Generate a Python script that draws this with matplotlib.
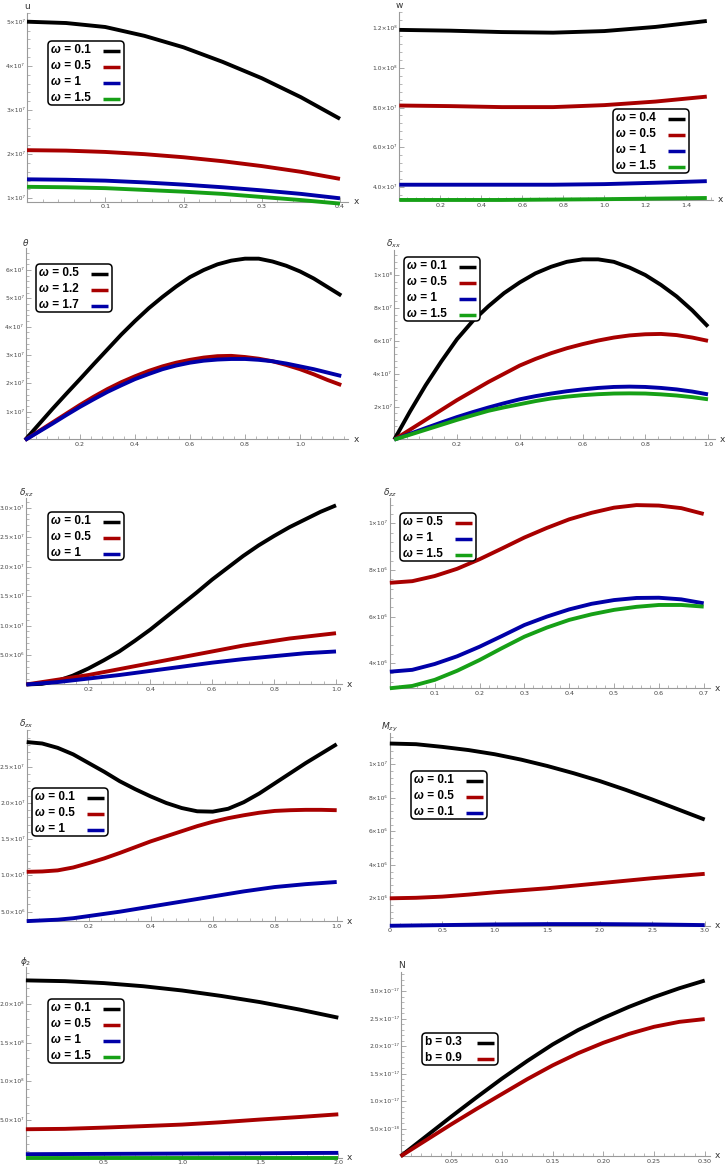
import math
import numpy as np
import matplotlib
matplotlib.use("Agg")
import matplotlib.pyplot as plt
from matplotlib.lines import Line2D
from matplotlib.patches import FancyBboxPatch
from matplotlib.transforms import IdentityTransform
from matplotlib.ticker import FixedLocator, AutoMinorLocator

W, H, DPI = 726, 1172, 100

BLACK = "#000000"
RED = "#a80000"
BLUE = "#0000a8"
GREEN = "#16a016"

# ---------------- data ----------------
u_x = [0, 0.05, 0.1, 0.15, 0.2, 0.25, 0.3, 0.35, 0.4]
u_w01 = np.array([5.0, 4.97, 4.88, 4.68, 4.42, 4.09, 3.72, 3.29, 2.80]) * 1e7
u_w05 = np.array([2.09, 2.08, 2.05, 2.00, 1.93, 1.84, 1.73, 1.60, 1.44]) * 1e7
u_w1 = np.array([1.43, 1.42, 1.40, 1.36, 1.31, 1.25, 1.18, 1.10, 1.00]) * 1e7
u_w15 = np.array([1.26, 1.25, 1.23, 1.19, 1.15, 1.10, 1.03, 0.96, 0.88]) * 1e7

w_x = [0, 0.25, 0.5, 0.75, 1.0, 1.25, 1.5]
w_w04 = np.array([1.192, 1.188, 1.181, 1.178, 1.186, 1.207, 1.237]) * 1e8
w_w05 = np.array([8.10, 8.07, 8.02, 8.02, 8.12, 8.30, 8.55]) * 1e7
w_w1 = np.array([4.10, 4.10, 4.10, 4.10, 4.13, 4.20, 4.28]) * 1e7
w_w15 = np.array([3.33, 3.33, 3.33, 3.35, 3.37, 3.40, 3.43]) * 1e7

theta_x = [0, 0.05, 0.1, 0.15, 0.2, 0.25, 0.3, 0.35, 0.4, 0.45, 0.5, 0.55,
           0.6, 0.65, 0.7, 0.75, 0.8, 0.85, 0.9, 0.95, 1.0, 1.05, 1.1, 1.15]
theta_w05 = np.array([0, 0.55, 1.1, 1.63, 2.15, 2.68, 3.2, 3.72, 4.2, 4.65, 5.05, 5.42,
                      5.75, 6.0, 6.2, 6.33, 6.4, 6.4, 6.3, 6.15, 5.95, 5.7, 5.4, 5.1]) * 1e7
theta_w12 = np.array([0, 0.31, 0.62, 0.93, 1.24, 1.53, 1.8, 2.04, 2.25, 2.44, 2.6, 2.73,
                      2.83, 2.91, 2.96, 2.97, 2.93, 2.87, 2.78, 2.65, 2.5, 2.32, 2.12, 1.94]) * 1e7
theta_w17 = np.array([0, 0.29, 0.58, 0.88, 1.17, 1.44, 1.7, 1.93, 2.15, 2.33, 2.5, 2.63,
                      2.73, 2.8, 2.84, 2.86, 2.86, 2.83, 2.78, 2.7, 2.6, 2.5, 2.38, 2.26]) * 1e7

dxx_x = [0, 0.05, 0.1, 0.15, 0.2, 0.25, 0.3, 0.35, 0.4, 0.45, 0.5,
         0.55, 0.6, 0.65, 0.7, 0.75, 0.8, 0.85, 0.9, 0.95, 1.0]
dxx_w01 = np.array([0, 1.7, 3.3, 4.75, 6.1, 7.2, 8.1, 8.9, 9.55, 10.1, 10.5,
                    10.8, 10.95, 10.95, 10.8, 10.45, 10.0, 9.4, 8.7, 7.85, 6.87]) * 1e7
dxx_w05 = np.array([0, 0.6, 1.2, 1.8, 2.4, 2.95, 3.5, 4.0, 4.5, 4.9, 5.25,
                    5.55, 5.8, 6.02, 6.2, 6.33, 6.4, 6.42, 6.35, 6.2, 6.0]) * 1e7
dxx_w1 = np.array([0, 0.35, 0.7, 1.04, 1.37, 1.67, 1.95, 2.21, 2.45, 2.64, 2.8,
                   2.94, 3.05, 3.14, 3.2, 3.22, 3.2, 3.14, 3.05, 2.92, 2.75]) * 1e7
dxx_w15 = np.array([0, 0.3, 0.6, 0.9, 1.2, 1.48, 1.75, 1.96, 2.15, 2.34, 2.5,
                    2.61, 2.7, 2.76, 2.8, 2.81, 2.8, 2.75, 2.68, 2.58, 2.45]) * 1e7

dxz_x = [0, 0.05, 0.1, 0.15, 0.2, 0.25, 0.3, 0.35, 0.4, 0.45, 0.5,
         0.55, 0.6, 0.65, 0.7, 0.75, 0.8, 0.85, 0.9, 0.95, 1.0]
dxz_w01 = np.array([0, 0.01, 0.06, 0.15, 0.27, 0.41, 0.56, 0.74, 0.93, 1.14, 1.35,
                    1.56, 1.78, 1.98, 2.18, 2.36, 2.52, 2.67, 2.8, 2.93, 3.04]) * 1e7
dxz_w05 = np.array([0, 0.04, 0.08, 0.12, 0.16, 0.21, 0.26, 0.31, 0.36, 0.41, 0.46,
                    0.51, 0.56, 0.61, 0.66, 0.70, 0.74, 0.78, 0.81, 0.84, 0.87]) * 1e7
dxz_w1 = np.array([0, 0.02, 0.04, 0.07, 0.10, 0.13, 0.16, 0.195, 0.23, 0.265, 0.30,
                   0.335, 0.37, 0.40, 0.43, 0.455, 0.48, 0.505, 0.53, 0.545, 0.56]) * 1e7

dzz_x = [0, 0.05, 0.1, 0.15, 0.2, 0.25, 0.3, 0.35, 0.4, 0.45, 0.5, 0.55, 0.6, 0.65, 0.7]
dzz_w05 = np.array([7.45, 7.52, 7.74, 8.05, 8.46, 8.92, 9.39, 9.80, 10.17, 10.45,
                    10.67, 10.78, 10.76, 10.65, 10.40]) * 1e6
dzz_w1 = np.array([3.64, 3.72, 3.97, 4.30, 4.71, 5.17, 5.64, 6.00, 6.31, 6.55,
                   6.71, 6.80, 6.81, 6.74, 6.57]) * 1e6
dzz_w15 = np.array([2.93, 3.03, 3.29, 3.68, 4.14, 4.65, 5.14, 5.53, 5.86, 6.10,
                    6.29, 6.42, 6.50, 6.50, 6.43]) * 1e6

dzx_x = [0, 0.05, 0.1, 0.15, 0.2, 0.25, 0.3, 0.35, 0.4, 0.45, 0.5,
         0.55, 0.6, 0.65, 0.7, 0.75, 0.8, 0.85, 0.9, 0.95, 1.0]
dzx_w01 = np.array([2.84, 2.82, 2.76, 2.67, 2.55, 2.43, 2.30, 2.19, 2.09, 2.00, 1.93,
                    1.885, 1.88, 1.92, 2.01, 2.13, 2.27, 2.41, 2.55, 2.68, 2.81]) * 1e7
dzx_w05 = np.array([1.05, 1.055, 1.07, 1.11, 1.17, 1.235, 1.31, 1.39, 1.47, 1.54, 1.61,
                    1.68, 1.74, 1.79, 1.83, 1.865, 1.89, 1.90, 1.905, 1.905, 1.90]) * 1e7
dzx_w1 = np.array([0.37, 0.38, 0.39, 0.41, 0.44, 0.47, 0.50, 0.535, 0.57, 0.605, 0.64,
                   0.675, 0.71, 0.745, 0.78, 0.81, 0.84, 0.86, 0.88, 0.895, 0.91]) * 1e7

mzy_x = [0, 0.25, 0.5, 0.75, 1.0, 1.25, 1.5, 1.75, 2.0, 2.25, 2.5, 2.75, 3.0]
mzy_a = np.array([11.24, 11.20, 11.04, 10.85, 10.60, 10.28, 9.90, 9.47, 9.00, 8.47, 7.90, 7.30, 6.70]) * 1e6
mzy_b = np.array([2.00, 2.03, 2.10, 2.22, 2.36, 2.48, 2.60, 2.75, 2.90, 3.05, 3.20, 3.33, 3.46]) * 1e6
mzy_c = np.array([0.36, 0.38, 0.40, 0.42, 0.44, 0.45, 0.46, 0.46, 0.46, 0.45, 0.44, 0.42, 0.40]) * 1e6

phi_x = [0, 0.25, 0.5, 0.75, 1.0, 1.25, 1.5, 1.75, 2.0]
phi_w01 = np.array([23.0, 22.9, 22.65, 22.25, 21.7, 21.0, 20.2, 19.25, 18.2]) * 1e7
phi_w05 = np.array([3.85, 3.90, 4.06, 4.25, 4.45, 4.75, 5.10, 5.42, 5.77]) * 1e7
phi_w1 = np.array([0.64, 0.66, 0.68, 0.70, 0.72, 0.74, 0.76, 0.79, 0.81]) * 1e7
phi_w15 = np.array([0.21, 0.21, 0.21, 0.21, 0.21, 0.21, 0.21, 0.21, 0.21]) * 1e7

n_x = [0, 0.025, 0.05, 0.075, 0.1, 0.125, 0.15, 0.175, 0.2, 0.225, 0.25, 0.275, 0.3]
n_b03 = np.array([0, 0.36, 0.72, 1.07, 1.41, 1.73, 2.03, 2.29, 2.51, 2.71, 2.89, 3.05, 3.19]) * 1e-17
n_b09 = np.array([0, 0.29, 0.58, 0.86, 1.13, 1.40, 1.65, 1.87, 2.06, 2.22, 2.35, 2.44, 2.49]) * 1e-17

SUP = str.maketrans("0123456789-", "⁰¹²³⁴⁵⁶⁷⁸⁹⁻")


def sci(v, dec):
    """Mathematica-like tick label, e.g. 5x10^7"""
    e = math.floor(math.log10(v) + 1e-9)
    m = v / 10 ** e
    return f"{m:.{dec}f}×10" + str(e).translate(SUP)


def pix_lim(lo, hi, v0, p0, v1, p1):
    """Map two pixel positions to data values using two reference ticks"""
    k = (v1 - v0) / (p1 - p0)
    return v0 + (lo - p0) * k, v0 + (hi - p0) * k


# panel layout: axis box in image pixels (left, right, bottom, top) + reference ticks
PANELS = [
    dict(ylab="u", box=(27.0, 348.3, 201.7, 12.7),
         xref=(0, 27.0, 0.4, 340.0), yref=(1e7, 198.3, 5e7, 21.7),
         x=u_x, ys=[u_w01, u_w05, u_w1, u_w15], cols=[BLACK, RED, BLUE, GREEN],
         labels=["ω = 0.1", "ω = 0.5", "ω = 1", "ω = 1.5"], leg=(48, 41),
         xt=[0.1, 0.2, 0.3, 0.4], xfmt="{:.1f}", yt=[1e7, 2e7, 3e7, 4e7, 5e7], ydec=0),
    dict(ylab="w", box=(399.0, 713.0, 200.0, 11.7),
         xref=(0.2, 440.3, 1.4, 686.3), yref=(1.2e8, 28.3, 4e7, 186.7),
         x=w_x, ys=[w_w04, w_w05, w_w1, w_w15], cols=[BLACK, RED, BLUE, GREEN],
         labels=["ω = 0.4", "ω = 0.5", "ω = 1", "ω = 1.5"], leg=(613, 109),
         xt=[0.2, 0.4, 0.6, 0.8, 1.0, 1.2, 1.4], xfmt="{:.1f}",
         yt=[4e7, 6e7, 8e7, 1e8, 1.2e8], ydec=1),
    dict(ylab=r"$\theta$", box=(26.0, 348.3, 439.0, 248.3),
         xref=(0.2, 80.0, 1.0, 300.0), yref=(1e7, 411.7, 6e7, 270.0),
         x=theta_x, ys=[theta_w05, theta_w12, theta_w17], cols=[BLACK, RED, BLUE],
         labels=["ω = 0.5", "ω = 1.2", "ω = 1.7"], leg=(36, 264),
         xt=[0.2, 0.4, 0.6, 0.8, 1.0], xfmt="{:.1f}",
         yt=[1e7, 2e7, 3e7, 4e7, 5e7, 6e7], ydec=0),
    dict(ylab=r"$\delta_{xx}$", box=(394.0, 714.7, 439.3, 250.0),
         xref=(0.2, 457.0, 1.0, 708.0), yref=(2e7, 406.7, 1e8, 275.0),
         x=dxx_x, ys=[dxx_w01, dxx_w05, dxx_w1, dxx_w15], cols=[BLACK, RED, BLUE, GREEN],
         labels=["ω = 0.1", "ω = 0.5", "ω = 1", "ω = 1.5"], leg=(404, 257),
         xt=[0.2, 0.4, 0.6, 0.8, 1.0], xfmt="{:.1f}",
         yt=[2e7, 4e7, 6e7, 8e7, 1e8], ydec=0),
    dict(ylab=r"$\delta_{xz}$", box=(26.3, 341.7, 684.3, 498.3),
         xref=(0.2, 88.3, 1.0, 336.0), yref=(5e6, 655.0, 3e7, 507.7),
         x=dxz_x, ys=[dxz_w01, dxz_w05, dxz_w1], cols=[BLACK, RED, BLUE],
         labels=["ω = 0.1", "ω = 0.5", "ω = 1"], leg=(48, 512),
         xt=[0.2, 0.4, 0.6, 0.8, 1.0], xfmt="{:.1f}",
         yt=[5e6, 1e7, 1.5e7, 2e7, 2.5e7, 3e7], ydec=1),
    dict(ylab=r"$\delta_{zz}$", box=(389.7, 709.7, 688.3, 498.3),
         xref=(0.1, 434.7, 0.7, 703.7), yref=(4e6, 663.3, 1e7, 523.3),
         x=dzz_x, ys=[dzz_w05, dzz_w1, dzz_w15], cols=[RED, BLUE, GREEN],
         labels=["ω = 0.5", "ω = 1", "ω = 1.5"], leg=(400, 513),
         xt=[0.1, 0.2, 0.3, 0.4, 0.5, 0.6, 0.7], xfmt="{:.1f}",
         yt=[4e6, 6e6, 8e6, 1e7], ydec=0),
    dict(ylab=r"$\delta_{zx}$", box=(26.7, 341.7, 921.0, 730.0),
         xref=(0.2, 88.7, 1.0, 336.7), yref=(5e6, 911.7, 2.5e7, 766.7),
         x=dzx_x, ys=[dzx_w01, dzx_w05, dzx_w1], cols=[BLACK, RED, BLUE],
         labels=["ω = 0.1", "ω = 0.5", "ω = 1"], leg=(32, 788),
         xt=[0.2, 0.4, 0.6, 0.8, 1.0], xfmt="{:.1f}",
         yt=[5e6, 1e7, 1.5e7, 2e7, 2.5e7], ydec=1),
    dict(ylab=r"$M_{zy}$", box=(389.7, 709.7, 925.7, 733.3),
         xref=(0.5, 442.3, 3.0, 704.7), yref=(2e6, 898.3, 1e7, 764.3),
         x=mzy_x, ys=[mzy_a, mzy_b, mzy_c], cols=[BLACK, RED, BLUE],
         labels=["ω = 0.1", "ω = 0.5", "ω = 0.1"], leg=(411, 771),
         xt=[0, 0.5, 1.0, 1.5, 2.0, 2.5, 3.0], xfmt="{:.1f}",
         yt=[2e6, 4e6, 6e6, 8e6, 1e7], ydec=0),
    dict(ylab=r"$\phi_2$", box=(26.0, 341.7, 1157.7, 967.0),
         xref=(0.5, 104.0, 2.0, 338.3), yref=(5e7, 1120.3, 2e8, 1003.7),
         x=phi_x, ys=[phi_w01, phi_w05, phi_w1, phi_w15], cols=[BLACK, RED, BLUE, GREEN],
         labels=["ω = 0.1", "ω = 0.5", "ω = 1", "ω = 1.5"], leg=(48, 999),
         xt=[0.5, 1.0, 1.5, 2.0], xfmt="{:.1f}",
         yt=[5e7, 1e8, 1.5e8, 2e8], ydec=1),
    dict(ylab="N", box=(401.3, 709.7, 1156.0, 972.0),
         xref=(0.05, 451.3, 0.30, 704.7), yref=(5e-18, 1128.7, 3e-17, 991.0),
         x=n_x, ys=[n_b03, n_b09], cols=[BLACK, RED],
         labels=["b = 0.3", "b = 0.9"], leg=(422, 1033),
         xt=[0.05, 0.10, 0.15, 0.20, 0.25, 0.30], xfmt="{:.2f}",
         yt=[5e-18, 1e-17, 1.5e-17, 2e-17, 2.5e-17, 3e-17], ydec=1),
]

AXIS_GREY = "#9a9a9a"
TICK_TXT = "#444444"
LEG_FONT = dict(family=["Liberation Sans", "DejaVu Sans"], weight="bold", size=8.5)
LEG_W, LEG_ROW = 76, 16


def draw_legend(fig, renderer, x0, y0, labels, colors):
    """Framed legend with left aligned labels and line keys on the right (pixel coords)"""
    pix = IdentityTransform()
    h = LEG_ROW * len(labels)
    box = FancyBboxPatch((x0, H - y0 - h), LEG_W, h, boxstyle="round,pad=0,rounding_size=4",
                         transform=pix, fc="white", ec="black", lw=1.1, zorder=5)
    fig.add_artist(box)
    for i, (lab, c) in enumerate(zip(labels, colors)):
        yc = H - (y0 + LEG_ROW / 2 + LEG_ROW * i)
        head, rest = lab[0], lab[1:]
        style = "italic" if head == "ω" else "normal"
        t1 = fig.text(x0 + 2.5, yc - 4, head, transform=pix, va="baseline", ha="left",
                      style=style, zorder=6, **LEG_FONT)
        bb = t1.get_window_extent(renderer)
        fig.text(bb.x1 + 0.5, yc - 4, rest, transform=pix, va="baseline", ha="left",
                 zorder=6, **LEG_FONT)
        fig.add_artist(Line2D([x0 + 55, x0 + 72], [yc - 1.5, yc - 1.5], transform=pix,
                              color=c, lw=2.5, solid_capstyle="butt", zorder=6))


def draw_panel(fig, p):
    left, right, bottom, top = p["box"]
    ax = fig.add_axes([left / W, 1 - bottom / H, (right - left) / W, (bottom - top) / H])
    ax.set_xlim(*pix_lim(left, right, *p["xref"]))
    ax.set_ylim(*pix_lim(bottom, top, *p["yref"]))

    for y, c in zip(p["ys"], p["cols"]):
        ax.plot(p["x"], y, color=c, lw=2.8, clip_on=False, solid_capstyle="butt",
                solid_joinstyle="round", zorder=3)

    for s in ("top", "right"):
        ax.spines[s].set_visible(False)
    for s in ("left", "bottom"):
        ax.spines[s].set_color(AXIS_GREY)
        ax.spines[s].set_linewidth(0.8)

    ax.xaxis.set_major_locator(FixedLocator(p["xt"]))
    ax.set_xticklabels([p["xfmt"].format(v) if v != 0 else "0" for v in p["xt"]])
    ax.yaxis.set_major_locator(FixedLocator(p["yt"]))
    ax.set_yticklabels([sci(v, p["ydec"]) for v in p["yt"]])
    ax.xaxis.set_minor_locator(AutoMinorLocator(5))
    ax.yaxis.set_minor_locator(AutoMinorLocator(5))
    ax.tick_params(which="major", direction="in", length=3.5, width=0.6, color=AXIS_GREY,
                   labelsize=4.6, labelcolor=TICK_TXT, pad=2)
    ax.tick_params(axis="y", which="major", labelsize=4.3, pad=1.5)
    ax.tick_params(which="minor", direction="in", length=2, width=0.5, color=AXIS_GREY)
    ax.patch.set_alpha(0)

    # axis names: y at the top of the y axis, x at the end of the x axis
    ax.annotate(p["ylab"], xy=(0, 1), xycoords="axes fraction", xytext=(0, 6),
                textcoords="offset pixels", ha="center", va="center",
                fontsize=6.5, color="#333333")
    ax.annotate("x", xy=(1, 0), xycoords="axes fraction", xytext=(5, 0),
                textcoords="offset pixels", ha="left", va="center",
                fontsize=6.5, color="#333333")
    return ax


def main():
    fig = plt.figure(figsize=(W / DPI, H / DPI), dpi=DPI)
    fig.patch.set_facecolor("white")
    renderer = fig.canvas.get_renderer()
    for p in PANELS:
        draw_panel(fig, p)
        draw_legend(fig, renderer, p["leg"][0], p["leg"][1], p["labels"], p["cols"])
    fig.savefig("out.png", dpi=DPI)


if __name__ == "__main__":
    main()
